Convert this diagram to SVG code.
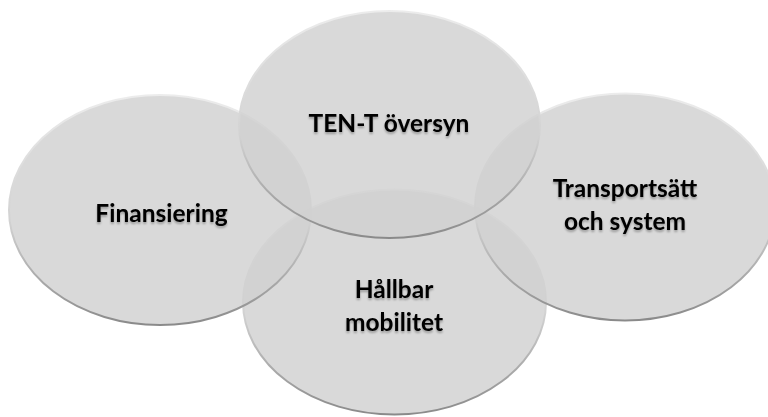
<svg xmlns="http://www.w3.org/2000/svg" width="768" height="417" viewBox="0 0 768 417">
  <defs>
    <linearGradient id="rim" x1="0" y1="0" x2="0" y2="1">
      <stop offset="0" stop-color="#ececec"/>
      <stop offset="0.55" stop-color="#d2d2d2"/>
      <stop offset="1" stop-color="#8a8a8a"/>
    </linearGradient>
    <filter id="ts" x="-10%" y="-30%" width="120%" height="160%">
      <feGaussianBlur in="SourceAlpha" stdDeviation="1.2" result="b"/>
      <feOffset in="b" dx="0" dy="1.5" result="o"/>
      <feComponentTransfer in="o" result="s">
        <feFuncA type="linear" slope="0.3"/>
      </feComponentTransfer>
      <feMerge>
        <feMergeNode in="s"/>
        <feMergeNode in="SourceGraphic"/>
      </feMerge>
    </filter>
  </defs>
  <style>
    .disc { fill: #d0d0d0; fill-opacity: 0.81; stroke: url(#rim); stroke-width: 2; }
    .lbl { font-family: Lato, "Liberation Sans", sans-serif; font-weight: bold; font-size: 24.5px; fill: #000000; text-anchor: middle; filter: url(#ts); }
  </style>
  <rect width="768" height="417" fill="#ffffff"/>
  <g id="connectors"/>
  <g id="node-hallbar">
    <ellipse class="disc" cx="394.5" cy="302" rx="151.5" ry="112.5"/>
    <text class="lbl" x="394" y="298">Hållbar</text>
    <text class="lbl" x="394" y="331">mobilitet</text>
  </g>
  <g id="node-finansiering">
    <ellipse class="disc" cx="160" cy="210" rx="151" ry="115"/>
    <text class="lbl" x="161.5" y="222">Finansiering</text>
  </g>
  <g id="node-transport">
    <ellipse class="disc" cx="625" cy="207" rx="150" ry="113.5"/>
    <text class="lbl" x="625" y="197">Transportsätt</text>
    <text class="lbl" x="625" y="230">och system</text>
  </g>
  <g id="node-tent">
    <ellipse class="disc" cx="389.5" cy="124.5" rx="150.5" ry="113.5"/>
    <text class="lbl" x="389" y="132">TEN-T översyn</text>
  </g>
</svg>
